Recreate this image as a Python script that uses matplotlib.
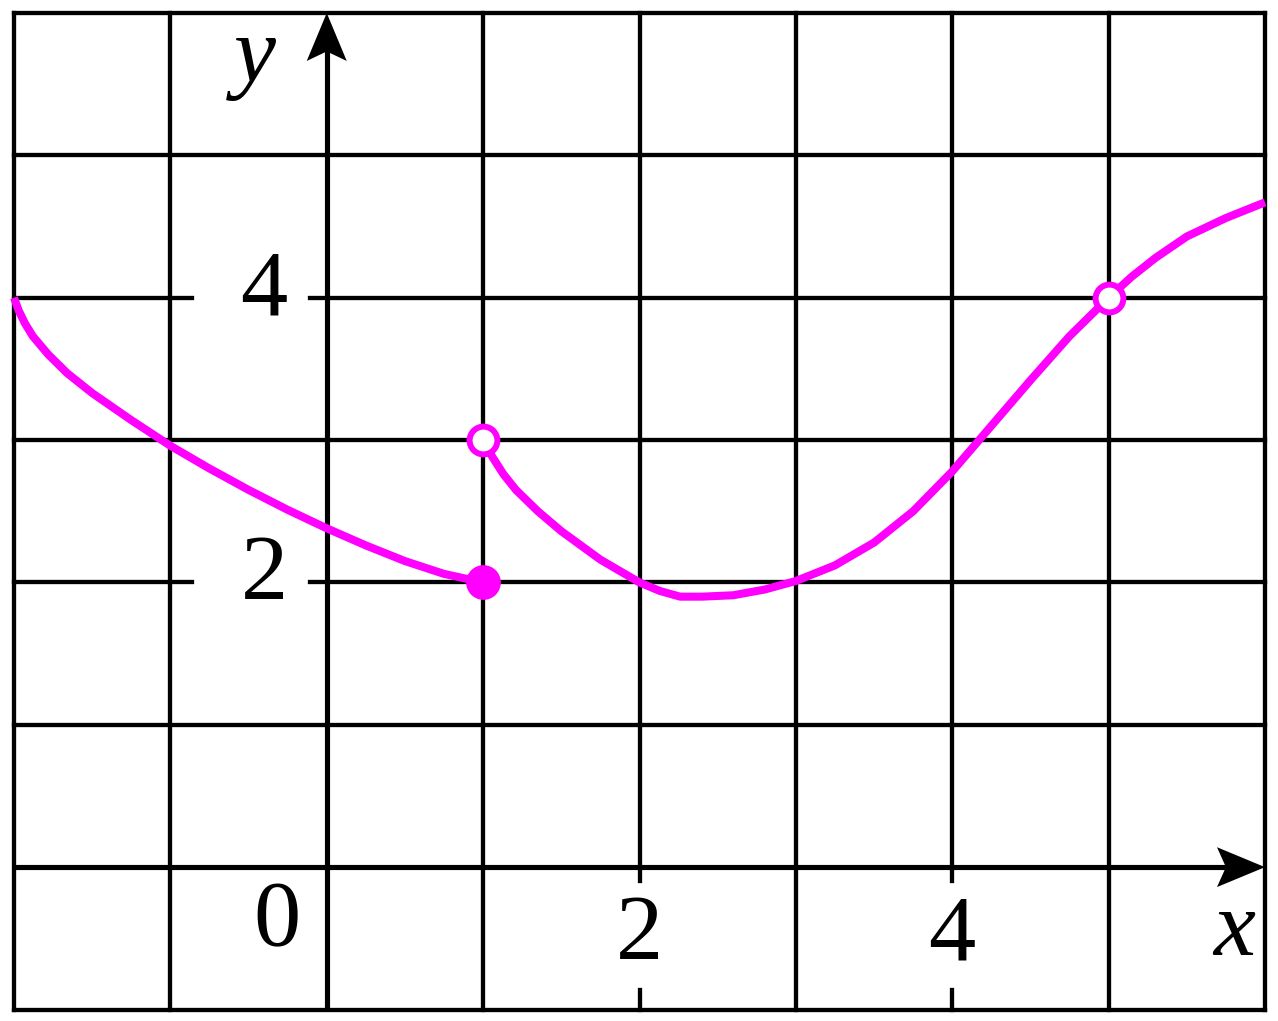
import numpy as np
import matplotlib
matplotlib.use("Agg")
import matplotlib.pyplot as plt
from matplotlib import font_manager

# ---- data ----
piece1_x = [-2.0, -1.97, -1.93, -1.88, -1.78, -1.66, -1.5, -1.25, -1.0, -0.75, -0.5, -0.25, 0.0, 0.25, 0.5, 0.75, 1.0]
piece1_y = [4.0, 3.91, 3.82, 3.73, 3.60, 3.47, 3.33, 3.14, 2.96, 2.80, 2.65, 2.51, 2.38, 2.26, 2.15, 2.06, 2.0]
piece2_x = [1.0, 1.06, 1.13, 1.21, 1.35, 1.5, 1.75, 2.0, 2.13, 2.26, 2.4, 2.6, 2.8, 3.0, 3.25, 3.5, 3.75,
            4.0, 4.25, 4.5, 4.75, 5.0, 5.15, 5.3, 5.5, 5.75, 6.0]
piece2_y = [3.0, 2.88, 2.76, 2.65, 2.50, 2.36, 2.16, 2.00, 1.94, 1.90, 1.90, 1.91, 1.95, 2.01, 2.12, 2.28, 2.50,
            2.78, 3.10, 3.42, 3.73, 4.0, 4.15, 4.28, 4.43, 4.56, 4.67]
closed_pts = [(1, 2)]
open_pts = [(1, 3), (5, 4)]
y_tick_vals = [4, 2]
y_tick_labels = ["4", "2"]
x_tick_vals = [0, 2, 4]
x_tick_labels = ["0", "2", "4"]

W, H = 1278, 1021
fig = plt.figure(figsize=(W / 100, H / 100), dpi=100)
fig.patch.set_facecolor("white")
ax = fig.add_axes([14 / W, (H - 1009.5) / H, 1251 / W, 996.5 / H])
ax.set_xlim(-2, 6)
ax.set_ylim(-1, 6)
ax.axis("off")

names = sorted({f.name for f in font_manager.fontManager.ttflist})
font = "Liberation Serif" if "Liberation Serif" in names else "DejaVu Serif"

glw = 3.1
kw = dict(color="black", lw=glw, clip_on=False, solid_capstyle="projecting", zorder=1)
for xv in range(-2, 7):
    if xv == 0:
        continue
    if xv in (2, 4):
        ax.plot([xv, xv], [-1, -0.86], **kw)
        ax.plot([xv, xv], [-0.10, 6], **kw)
    else:
        ax.plot([xv, xv], [-1, 6], **kw)
for yv in range(-1, 7):
    if yv == 0:
        continue
    if yv in (2, 4):
        ax.plot([-2, -0.86], [yv, yv], **kw)
        ax.plot([-0.11, 6], [yv, yv], **kw)
    else:
        ax.plot([-2, 6], [yv, yv], **kw)

# axes with arrowheads
alw = 3.7
ax.plot([0, 0], [-1, 5.75], color="black", lw=alw, zorder=2, clip_on=False, solid_capstyle="butt")
ax.plot([-2, 5.78], [0, 0], color="black", lw=alw, zorder=2, clip_on=False, solid_capstyle="butt")
hl_y, hw_y, notch_y = 0.337, 0.128, 0.27
ax.fill([0, -hw_y, 0, hw_y], [6, 6 - hl_y, 6 - notch_y, 6 - hl_y], color="black", lw=0, zorder=3, clip_on=False)
hl_x, hw_x, notch_x = 0.307, 0.14, 0.25
ax.fill([6, 6 - hl_x, 6 - notch_x, 6 - hl_x], [0, hw_x, 0, -hw_x], color="black", lw=0, zorder=3, clip_on=False)

# curve
mag = "#ff00ff"
ax.plot(piece1_x, piece1_y, color=mag, lw=5.8, zorder=4, solid_capstyle="butt", solid_joinstyle="round", clip_on=False)
ax.plot(piece2_x, piece2_y, color=mag, lw=5.8, zorder=4, solid_capstyle="butt", solid_joinstyle="round", clip_on=False)
for (px, py) in closed_pts:
    ax.plot(px, py, "o", ms=23, color=mag, mec=mag, mew=2, zorder=5)
for (px, py) in open_pts:
    ax.plot(px, py, "o", ms=20, mfc="white", mec=mag, mew=4.3, zorder=5)

fs = 68
for v, t in zip(y_tick_vals, y_tick_labels):
    ax.text(-0.40, v + 0.04, t, fontsize=fs, family=font, ha="center", va="center")
xlab_y = {0: -0.39, 2: -0.49, 4: -0.49}
xlab_x = {0: -0.32, 2: 2.0, 4: 4.0}
for v, t in zip(x_tick_vals, x_tick_labels):
    ax.text(xlab_x[v], xlab_y[v], t, fontsize=fs, family=font, ha="center", va="center")
ax.text(-0.46, 5.68, "y", fontsize=fs, family=font, style="italic", ha="center", va="center")
ax.text(5.80, -0.46, "x", fontsize=fs, family=font, style="italic", ha="center", va="center")

fig.savefig("out.png", dpi=100, facecolor="white")
